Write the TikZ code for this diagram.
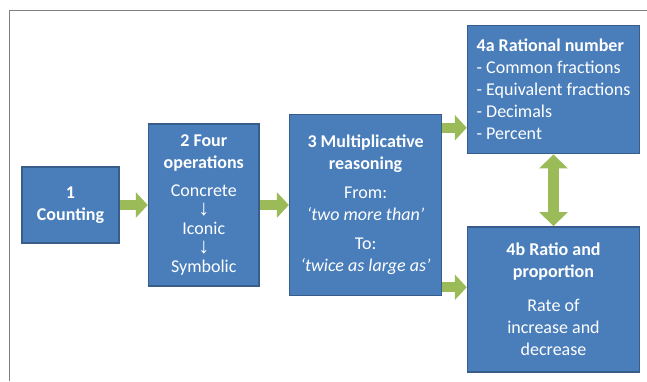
\documentclass[tikz,border=0pt]{standalone}
\usepackage{fontspec}
\setmainfont{Carlito}
\newfontfamily\arrowfont{Liberation Sans}
\usetikzlibrary{arrows.meta, positioning, calc}
\definecolor{BoxBlue}{RGB}{74, 126, 187}
\definecolor{EdgeBlue}{RGB}{56, 93, 138}
\definecolor{LeafGreen}{RGB}{155, 187, 89}
\definecolor{FrameGrey}{RGB}{128, 128, 128}
\newcommand{\stepdown}{{\arrowfont\fontsize{22}{22}\selectfont ↓}}

\begin{document}
\begin{tikzpicture}[
            x=1pt, y=-1pt,
            box/.style={rectangle, draw=EdgeBlue, line width=1.5pt, fill=BoxBlue, text=white,
                        inner sep=0pt, align=center, font=\fontsize{18}{22}\selectfont},
            flow/.style={-{Triangle[length=12pt, width=25pt]}, line width=10pt, LeafGreen},
            both/.style={{Triangle[length=14pt, width=28pt]}-{Triangle[length=14pt, width=28pt]},
                         line width=10.5pt, LeafGreen}
        ]
            \useasboundingbox (0,0) rectangle (647,381);
            \draw[FrameGrey, line width=1.2pt] (9.5,381) |- (647,10.7);

            \node[box, minimum width=97pt, minimum height=76pt] (count) at (70.5,205)
                {\textbf{1}\\ \textbf{Counting}};
            \node[box, minimum width=110.6pt, minimum height=162pt, right=28pt of count] (ops)
                {\textbf{2 Four}\\ \textbf{operations}\\[6pt] Concrete\\[-3pt] \stepdown\\[-3pt]
                 Iconic\\[-3pt] \stepdown\\[-3pt] Symbolic};
            \node[box, minimum width=152pt, minimum height=181pt, right=29pt of ops] (mult)
                {\textbf{3 Multiplicative}\\ \textbf{reasoning}\\[7pt] From:\\ \textit{‘two more than’}\\[7pt]
                 To:\\ \textit{‘twice as large as’}};
            \node[box, align=left, minimum width=172pt, minimum height=128pt] (ratnum) at (553.5,89.7)
                {\textbf{4a Rational number}\\ - Common fractions\\ - Equivalent fractions\\ - Decimals\\ - Percent};
            \node[box, minimum width=172pt, minimum height=145pt] (ratio) at (553.5,299.3)
                {\textbf{4b Ratio and}\\ \textbf{proportion}\\[12pt] Rate of\\ increase and\\ decrease};

            \draw[flow] (count) -- (ops);
            \draw[flow] (ops) -- (mult);
            \draw[flow] ([yshift=-14pt]mult.north east) coordinate (upper) -- (upper -| ratnum.west);
            \draw[flow] ([yshift=9pt]mult.south east) coordinate (lower) -- (lower -| ratio.west);
            \draw[both] (ratnum) -- (ratio);
        \end{tikzpicture}
\end{document}
